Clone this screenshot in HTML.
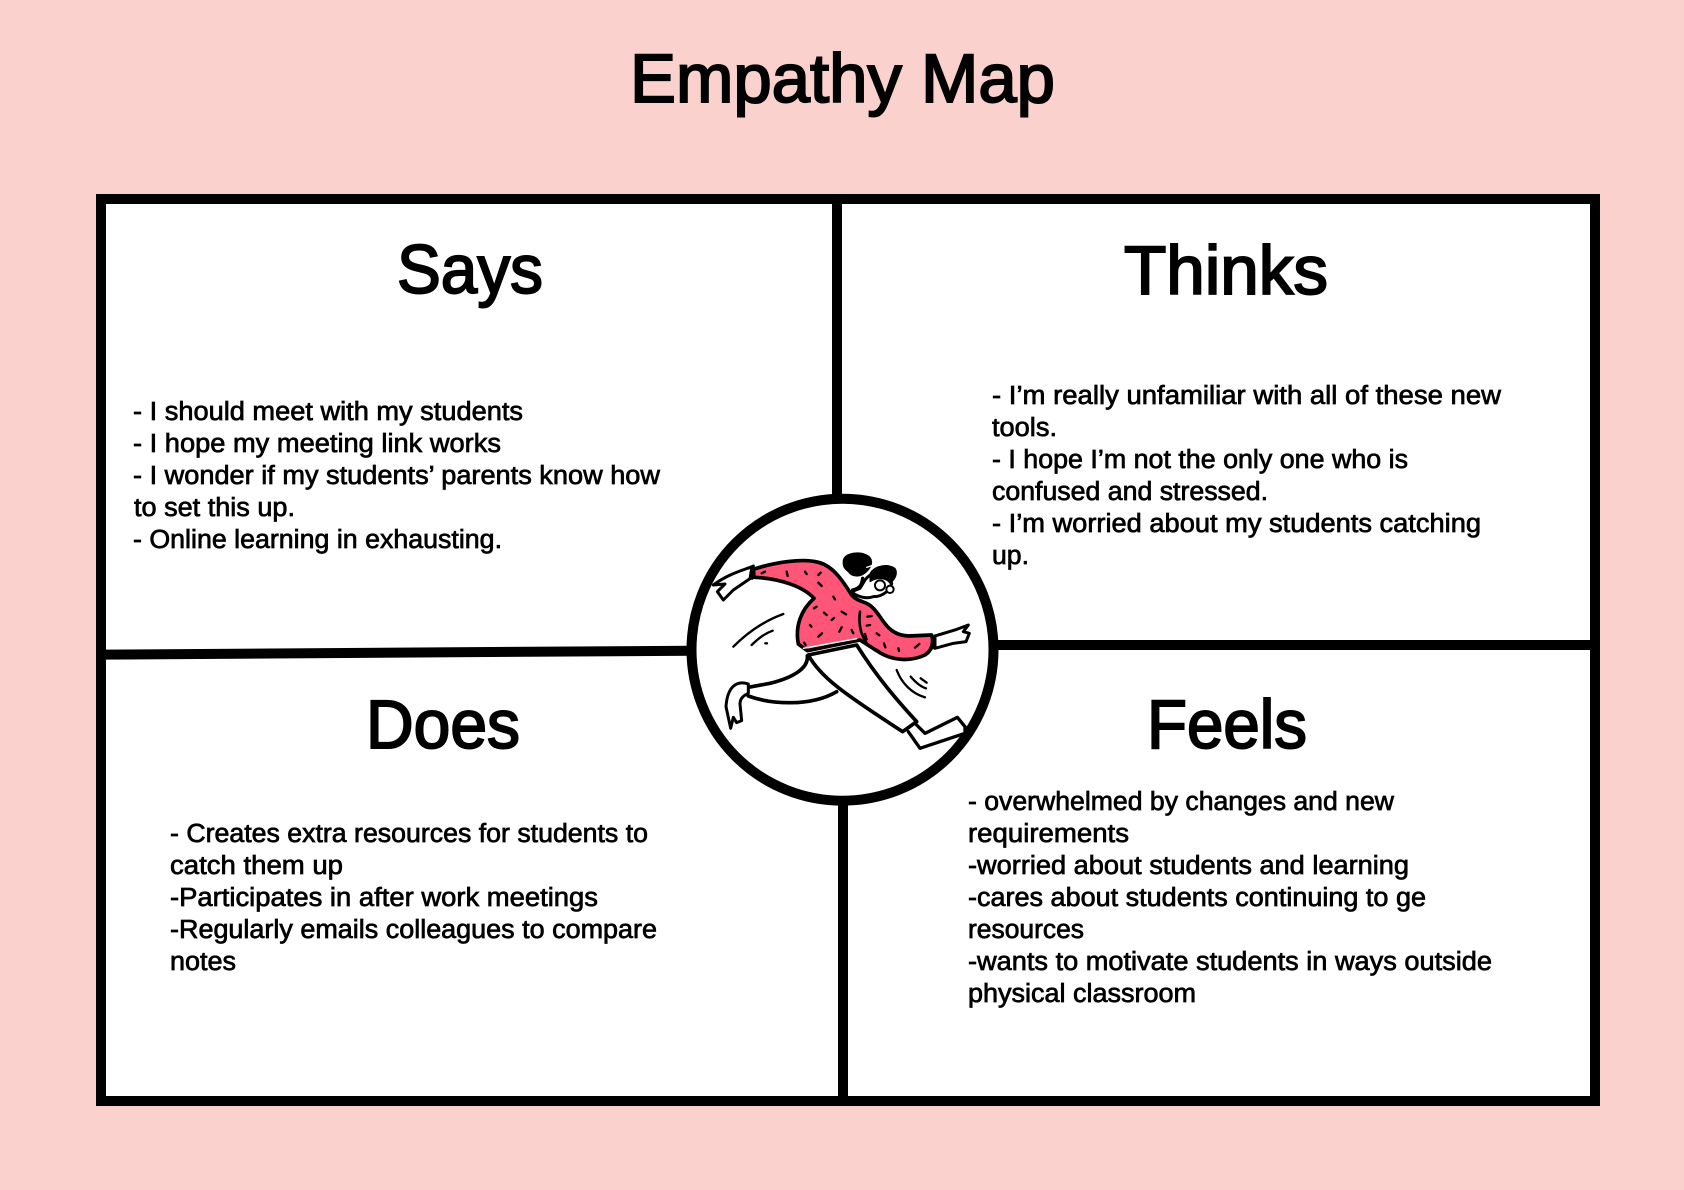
<!DOCTYPE html>
<html lang="en">
<head>
<meta charset="utf-8">
<title>Empathy Map</title>
<style>
html,body{margin:0;padding:0;background:#fad1cc;}
svg{display:block;}
text{font-family:"Liberation Sans",sans-serif;fill:#000;}
.h{font-size:69px;stroke:#000;stroke-width:2px;}
.b{font-size:25.5px;stroke:#000;stroke-width:.7px;}
</style>
</head>
<body>
<svg width="1684" height="1190" viewBox="0 0 1684 1190" xmlns="http://www.w3.org/2000/svg">
<rect width="1684" height="1190" fill="#fad1cc"/>
<rect x="101" y="199" width="1494" height="902" fill="#fff" stroke="#000" stroke-width="10"/>

<!-- dividers -->
<g stroke="#000" stroke-width="10" fill="none">
<line x1="837" y1="203" x2="837" y2="500"/>
<line x1="843" y1="800" x2="843" y2="1100"/>
<line x1="104" y1="654.6" x2="692" y2="650.7"/>
<line x1="994" y1="645" x2="1592" y2="645"/>
</g>

<!-- headings -->
<text class="h" x="630" y="102" textLength="425" lengthAdjust="spacingAndGlyphs">Empathy Map</text>
<text class="h" x="397" y="293" textLength="146" lengthAdjust="spacingAndGlyphs">Says</text>
<text class="h" x="1124" y="294" textLength="204" lengthAdjust="spacingAndGlyphs">Thinks</text>
<text class="h" x="366" y="748" textLength="154" lengthAdjust="spacingAndGlyphs">Does</text>
<text class="h" x="1147" y="748" textLength="160" lengthAdjust="spacingAndGlyphs">Feels</text>

<!-- Says -->
<text class="b" x="133" y="420" textLength="390" lengthAdjust="spacingAndGlyphs">- I should meet with my students</text>
<text class="b" x="133" y="452" textLength="368" lengthAdjust="spacingAndGlyphs">- I hope my meeting link works</text>
<text class="b" x="133" y="484" textLength="527" lengthAdjust="spacingAndGlyphs">- I wonder if my students’ parents know how</text>
<text class="b" x="134" y="516" textLength="161" lengthAdjust="spacingAndGlyphs">to set this up.</text>
<text class="b" x="133" y="548" textLength="369" lengthAdjust="spacingAndGlyphs">- Online learning in exhausting.</text>

<!-- Thinks -->
<text class="b" x="992" y="404" textLength="509" lengthAdjust="spacingAndGlyphs">- I’m really unfamiliar with all of these new</text>
<text class="b" x="992" y="436" textLength="65" lengthAdjust="spacingAndGlyphs">tools.</text>
<text class="b" x="992" y="468" textLength="416" lengthAdjust="spacingAndGlyphs">- I hope I’m not the only one who is</text>
<text class="b" x="992" y="500" textLength="276" lengthAdjust="spacingAndGlyphs">confused and stressed.</text>
<text class="b" x="992" y="532" textLength="489" lengthAdjust="spacingAndGlyphs">- I’m worried about my students catching</text>
<text class="b" x="992" y="564" textLength="37" lengthAdjust="spacingAndGlyphs">up.</text>

<!-- Does -->
<text class="b" x="170" y="842" textLength="478" lengthAdjust="spacingAndGlyphs">- Creates extra resources for students to</text>
<text class="b" x="170" y="874" textLength="173" lengthAdjust="spacingAndGlyphs">catch them up</text>
<text class="b" x="170" y="906" textLength="428" lengthAdjust="spacingAndGlyphs">-Participates in after work meetings</text>
<text class="b" x="170" y="938" textLength="487" lengthAdjust="spacingAndGlyphs">-Regularly emails colleagues to compare</text>
<text class="b" x="170" y="970" textLength="66" lengthAdjust="spacingAndGlyphs">notes</text>

<!-- Feels -->
<text class="b" x="968" y="810" textLength="426" lengthAdjust="spacingAndGlyphs">- overwhelmed by changes and new</text>
<text class="b" x="968" y="842" textLength="161" lengthAdjust="spacingAndGlyphs">requirements</text>
<text class="b" x="968" y="874" textLength="441" lengthAdjust="spacingAndGlyphs">-worried about students and learning</text>
<text class="b" x="968" y="906" textLength="458" lengthAdjust="spacingAndGlyphs">-cares about students continuing to ge</text>
<text class="b" x="968" y="938" textLength="116" lengthAdjust="spacingAndGlyphs">resources</text>
<text class="b" x="968" y="970" textLength="524" lengthAdjust="spacingAndGlyphs">-wants to motivate students in ways outside</text>
<text class="b" x="968" y="1002" textLength="228" lengthAdjust="spacingAndGlyphs">physical classroom</text>

<!-- center circle -->
<circle cx="842.5" cy="649.7" r="151" fill="#fff" stroke="#000" stroke-width="10"/>

<!-- figure: coordinates are in 3x crop space -->
<g transform="translate(670 480) scale(.33333)" stroke="#000" stroke-linecap="round" stroke-linejoin="round" fill="none">
  <!-- motion lines -->
  <g stroke-width="7">
    <path d="M190 500C240 450 290 420 340 402"/>
    <path d="M245 495C265 475 285 460 308 452"/>
    <path d="M286 490L291 490"/>
    <path d="M680 570C695 610 725 640 765 652"/>
    <path d="M722 590C735 605 750 620 768 625"/>
    <path d="M752 595L770 608"/>
  </g>
  <!-- back leg -->
  <g stroke-width="11">
    <path d="M412 528C415 560 380 590 300 610L235 622"/>
    <path d="M235 648C300 672 420 682 500 635"/>
    <path d="M235 612C200 600 172 620 168 680L182 745L190 712L200 728L215 722L210 672C210 652 225 645 235 640Z" fill="#fff" stroke-width="9"/>
    <!-- front leg -->
    <path d="M415 525C450 590 520 640 698 755L740 725C680 660 620 590 560 495Z" fill="#fff"/>
    <path d="M715 755L750 805L885 760L885 740L862 712L765 760L740 735" fill="#fff" stroke-width="10"/>
  </g>
  <!-- hands -->
  <g stroke-width="9" fill="#fff">
    <path d="M246 260C205 275 170 285 130 315L165 312L142 335L160 360L190 330L240 296Z"/>
    <path d="M795 468L855 450L895 435L880 455L898 460L888 485L850 490L795 505Z"/>
  </g>
  <!-- sweater -->
  <path d="M250 268C320 245 400 235 445 247C490 258 520 305 545 345C565 368 590 362 610 385C640 415 650 465 715 468L785 465C792 490 785 512 765 525C715 548 660 540 620 512L570 480L412 512L385 492C375 440 392 390 432 355C400 320 330 295 252 292Z" fill="#ff5577" stroke-width="11"/>
  <path d="M400 505L560 476" stroke="#fff" stroke-width="4"/>
  <path d="M570 395C565 430 570 460 590 490" stroke-width="8"/>
  <path d="M250 258L246 295" stroke-width="9"/>
  <path d="M790 470L787 505" stroke-width="8"/>
  <!-- speckles -->
  <g stroke-width="7">
    <path d="M275 280L285 275M350 275L353 288M405 275L410 282M445 285L452 278M445 308L455 318"/>
    <path d="M490 350L495 358M432 385L440 380M462 398L470 405M515 395L528 403M420 435L424 440M485 420L492 414M515 442L508 455M445 470L456 460M545 450L550 460M402 488L407 495"/>
    <path d="M592 410L605 408M590 437L600 435M585 462L590 478M620 460L628 466M642 490L646 502M685 505L687 513M735 503L748 492M622 510L628 514"/>
  </g>
  <!-- head -->
  <path d="M545 335C560 350 590 358 610 350C640 350 660 330 665 310L650 280C625 270 600 280 585 300L570 325Z" fill="#fff" stroke-width="9"/>
  <path d="M520 240C525 220 565 212 590 225C610 235 610 255 590 275C570 295 545 290 535 275C520 265 518 255 520 240Z" fill="#000" stroke-width="3"/>
  <path d="M600 280C615 255 655 250 675 265C685 280 675 300 660 310C650 295 625 290 600 305Z" fill="#000" stroke-width="3"/>
  <path d="M590 262L625 250" stroke="#fff" stroke-width="4"/>
  <path d="M578 295C575 315 570 325 548 330" stroke-width="10"/>
  <circle cx="630" cy="316" r="15" fill="#fff" stroke-width="6"/>
  <circle cx="660" cy="328" r="11" fill="#fff" stroke-width="6"/>
</g>
</svg>
</body>
</html>
